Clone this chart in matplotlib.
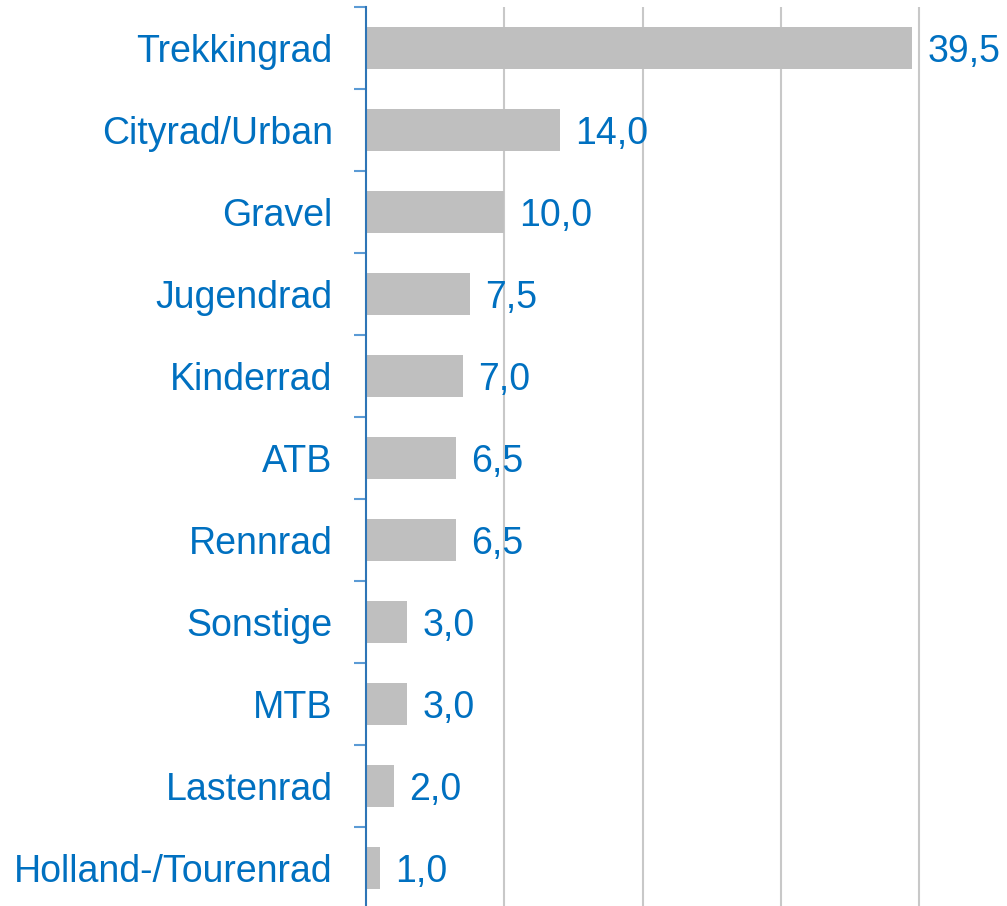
import matplotlib.pyplot as plt
import numpy as np

plt.rcParams['font.family'] = ['Liberation Sans', 'DejaVu Sans']

categories = ['Trekkingrad', 'Cityrad/Urban', 'Gravel', 'Jugendrad', 'Kinderrad',
              'ATB', 'Rennrad', 'Sonstige', 'MTB', 'Lastenrad', 'Holland-/Tourenrad']
values = [39.5, 14.0, 10.0, 7.5, 7.0, 6.5, 6.5, 3.0, 3.0, 2.0, 1.0]

blue = '#0070C0'
W, H = 1007, 906
fig = plt.figure(figsize=(W / 100, H / 100), dpi=100)
# plot area: x 366..1007 px, y 7..909 px (bottom slightly cut off)
ax = fig.add_axes([366 / W, (H - 909) / H, (W - 366) / W, 902 / H])

y = np.arange(len(categories))
ax.barh(y, values, height=0.51, color='#BFBFBF', zorder=2)

px_per_unit = (919 - 366) / 40
ax.set_xlim(0, (W - 366) / px_per_unit)
ax.set_ylim(len(categories) - 0.5, -0.5)

ax.set_xticks([10, 20, 30, 40])
ax.tick_params(axis='x', length=0, labelbottom=False)
ax.grid(axis='x', color='#C8C8C8', linewidth=1.5, zorder=0)

ax.set_yticks(y)
ax.set_yticklabels(categories, fontsize=27, color=blue)
ax.tick_params(axis='y', which='major', length=0, pad=24)
ax.set_yticks(np.arange(-0.5, len(categories)), minor=True)
ax.tick_params(axis='y', which='minor', length=9, width=1.5, color='#5B9BD5')

for s in ['top', 'right', 'bottom']:
    ax.spines[s].set_visible(False)
ax.spines['left'].set_color('#2E75B6')
ax.spines['left'].set_linewidth(1.5)

for yi, v in zip(y, values):
    ax.annotate(f'{v:.1f}'.replace('.', ','), (v, yi), xytext=(11, 0),
                textcoords='offset points', va='center_baseline', ha='left',
                fontsize=27, color=blue, clip_on=False)

fig.savefig('out.png', dpi=100)
